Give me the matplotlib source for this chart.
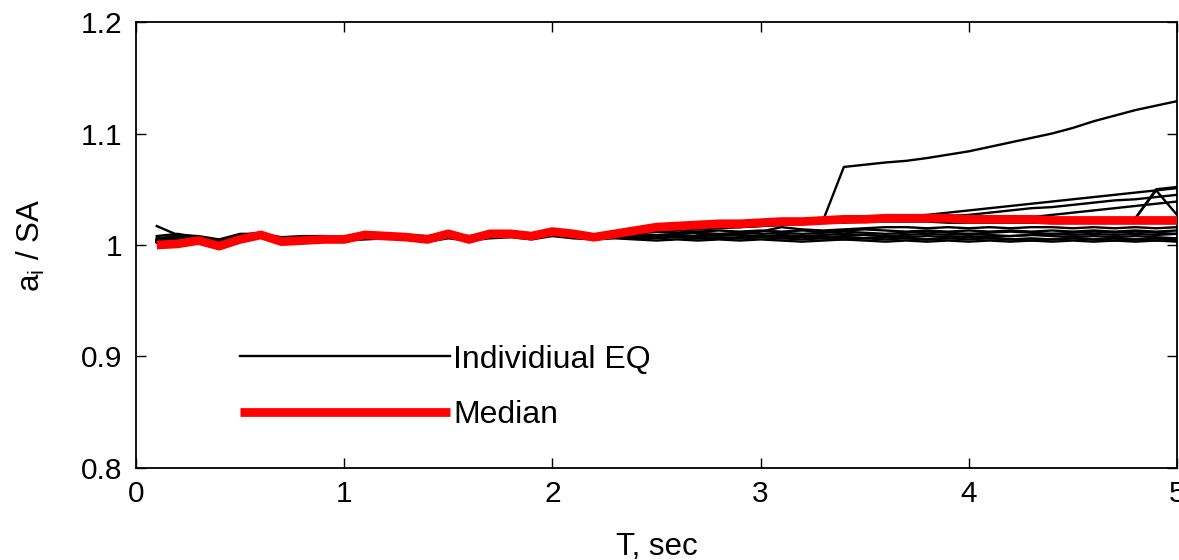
import matplotlib
matplotlib.use("Agg")
import matplotlib.pyplot as plt
from matplotlib.ticker import FixedLocator, FuncFormatter

plt.rcParams['font.family'] = ['Liberation Sans', 'DejaVu Sans']
plt.rcParams['mathtext.fontset'] = 'custom'
plt.rcParams['mathtext.rm'] = 'Liberation Sans'
plt.rcParams['mathtext.it'] = 'Liberation Sans'

# Periods T (sec)
T = [round(0.1 * k, 1) for k in range(1, 51)]

median = [1.000, 1.001, 1.004, 0.999, 1.005, 1.009, 1.003, 1.004, 1.005, 1.005,
          1.009, 1.008, 1.007, 1.005, 1.010, 1.005, 1.010, 1.010, 1.008, 1.012,
          1.010, 1.007, 1.010, 1.013, 1.016, 1.017, 1.018, 1.019, 1.019, 1.020,
          1.021, 1.021, 1.022, 1.023, 1.023, 1.024, 1.024, 1.024, 1.024, 1.023,
          1.023, 1.023, 1.023, 1.022, 1.022, 1.022, 1.022, 1.022, 1.022, 1.022]

eq_big = [1.003, 1.005, 1.006, 1.002, 1.006, 1.008, 1.005, 1.006, 1.006, 1.006,
          1.008, 1.008, 1.007, 1.006, 1.008, 1.006, 1.008, 1.009, 1.008, 1.010,
          1.009, 1.008, 1.010, 1.012, 1.014, 1.015, 1.016, 1.017, 1.018, 1.019,
          1.020, 1.021, 1.022, 1.070, 1.072, 1.074, 1.0755, 1.078, 1.081, 1.084,
          1.088, 1.092, 1.096, 1.100, 1.105, 1.111, 1.116, 1.121, 1.125, 1.129]

eq_b1 = [1.017, 1.009, 1.006, 1.004, 1.007, 1.008, 1.006, 1.006, 1.007, 1.006,
         1.007, 1.008, 1.007, 1.007, 1.008, 1.007, 1.008, 1.008, 1.007, 1.009,
         1.008, 1.007, 1.008, 1.009, 1.008, 1.009, 1.008, 1.009, 1.009, 1.008,
         1.009, 1.008, 1.009, 1.010, 1.009, 1.008, 1.009, 1.010, 1.009, 1.010,
         1.009, 1.008, 1.009, 1.010, 1.009, 1.010, 1.009, 1.010, 1.009, 1.010]

eq_b2 = [1.006, 1.008, 1.004, 1.001, 1.006, 1.010, 1.004, 1.005, 1.005, 1.005,
         1.007, 1.007, 1.006, 1.004, 1.009, 1.005, 1.009, 1.009, 1.007, 1.011,
         1.009, 1.006, 1.008, 1.007, 1.006, 1.007, 1.006, 1.007, 1.006, 1.007,
         1.006, 1.007, 1.006, 1.005, 1.006, 1.007, 1.006, 1.005, 1.006, 1.005,
         1.006, 1.005, 1.006, 1.005, 1.006, 1.005, 1.006, 1.005, 1.006, 1.005]

eq_b3 = [1.003, 1.004, 1.002, 0.999, 1.004, 1.007, 1.003, 1.004, 1.004, 1.004,
         1.005, 1.006, 1.005, 1.003, 1.006, 1.004, 1.006, 1.007, 1.005, 1.008,
         1.006, 1.005, 1.006, 1.005, 1.004, 1.005, 1.004, 1.005, 1.004, 1.005,
         1.004, 1.003, 1.004, 1.005, 1.004, 1.003, 1.004, 1.003, 1.004, 1.003,
         1.004, 1.003, 1.004, 1.003, 1.004, 1.003, 1.004, 1.003, 1.004, 1.003]

eq_b4 = [1.008, 1.010, 1.007, 1.003, 1.009, 1.011, 1.006, 1.006, 1.006, 1.007,
         1.009, 1.009, 1.008, 1.006, 1.010, 1.006, 1.010, 1.011, 1.009, 1.012,
         1.010, 1.007, 1.009, 1.010, 1.009, 1.010, 1.011, 1.010, 1.011, 1.010,
         1.011, 1.010, 1.011, 1.012, 1.011, 1.010, 1.011, 1.012, 1.011, 1.010,
         1.011, 1.012, 1.011, 1.010, 1.011, 1.012, 1.011, 1.012, 1.011, 1.010]

eq_b5 = [1.005, 1.007, 1.005, 1.002, 1.007, 1.009, 1.005, 1.005, 1.006, 1.006,
         1.008, 1.008, 1.007, 1.005, 1.008, 1.006, 1.009, 1.010, 1.008, 1.011,
         1.010, 1.009, 1.011, 1.013, 1.015, 1.014, 1.010, 1.009, 1.010, 1.012,
         1.016, 1.014, 1.013, 1.014, 1.015, 1.016, 1.016, 1.015, 1.016, 1.015,
         1.016, 1.015, 1.016, 1.016, 1.015, 1.016, 1.015, 1.016, 1.015, 1.016]

eq_b6 = [1.004, 1.006, 1.003, 1.000, 1.005, 1.008, 1.004, 1.004, 1.005, 1.005,
         1.006, 1.007, 1.006, 1.004, 1.007, 1.005, 1.007, 1.008, 1.006, 1.009,
         1.007, 1.006, 1.007, 1.006, 1.007, 1.008, 1.007, 1.006, 1.007, 1.008,
         1.007, 1.008, 1.007, 1.008, 1.009, 1.008, 1.007, 1.008, 1.007, 1.008,
         1.007, 1.008, 1.009, 1.008, 1.007, 1.008, 1.007, 1.008, 1.007, 1.006]

eq_b7 = [1.002, 1.005, 1.006, 1.003, 1.008, 1.009, 1.005, 1.007, 1.006, 1.006,
         1.008, 1.009, 1.008, 1.007, 1.009, 1.007, 1.009, 1.010, 1.008, 1.010,
         1.008, 1.007, 1.008, 1.007, 1.008, 1.007, 1.006, 1.007, 1.006, 1.007,
         1.006, 1.005, 1.006, 1.007, 1.006, 1.005, 1.006, 1.005, 1.006, 1.007,
         1.006, 1.005, 1.004, 1.005, 1.006, 1.005, 1.004, 1.005, 1.004, 1.005]

eq_b8 = [1.004, 1.009, 1.008, 1.005, 1.010, 1.010, 1.007, 1.008, 1.008, 1.007,
         1.009, 1.010, 1.009, 1.008, 1.010, 1.008, 1.010, 1.011, 1.009, 1.011,
         1.010, 1.009, 1.010, 1.011, 1.012, 1.011, 1.012, 1.013, 1.012, 1.013,
         1.012, 1.013, 1.012, 1.013, 1.014, 1.013, 1.012, 1.013, 1.012, 1.013,
         1.012, 1.013, 1.012, 1.013, 1.012, 1.013, 1.012, 1.013, 1.012, 1.013]

eq_c2 = [1.004, 1.006, 1.004, 1.001, 1.006, 1.009, 1.005, 1.005, 1.006, 1.006,
         1.008, 1.008, 1.007, 1.005, 1.009, 1.006, 1.009, 1.010, 1.008, 1.011,
         1.010, 1.008, 1.010, 1.012, 1.014, 1.015, 1.016, 1.017, 1.018, 1.019,
         1.020, 1.021, 1.022, 1.023, 1.024, 1.025, 1.026, 1.027, 1.029, 1.031,
         1.033, 1.035, 1.037, 1.039, 1.041, 1.043, 1.045, 1.047, 1.049, 1.051]

eq_c3 = [1.003, 1.005, 1.004, 1.000, 1.005, 1.008, 1.004, 1.005, 1.005, 1.005,
         1.007, 1.008, 1.007, 1.005, 1.008, 1.005, 1.008, 1.009, 1.007, 1.010,
         1.009, 1.007, 1.009, 1.011, 1.013, 1.014, 1.015, 1.016, 1.017, 1.018,
         1.019, 1.020, 1.021, 1.022, 1.022, 1.023, 1.024, 1.025, 1.026, 1.027,
         1.029, 1.031, 1.033, 1.034, 1.036, 1.038, 1.040, 1.041, 1.043, 1.045]

eq_c4 = [1.004, 1.005, 1.003, 1.000, 1.005, 1.008, 1.004, 1.004, 1.005, 1.005,
         1.007, 1.007, 1.006, 1.005, 1.008, 1.005, 1.008, 1.009, 1.007, 1.010,
         1.009, 1.007, 1.009, 1.011, 1.012, 1.013, 1.014, 1.015, 1.016, 1.017,
         1.018, 1.019, 1.020, 1.021, 1.021, 1.022, 1.022, 1.023, 1.023, 1.023,
         1.024, 1.024, 1.025, 1.027, 1.029, 1.031, 1.033, 1.035, 1.037, 1.039]

eq_c5 = [1.003, 1.006, 1.004, 1.001, 1.006, 1.008, 1.005, 1.005, 1.006, 1.006,
         1.008, 1.008, 1.007, 1.006, 1.009, 1.006, 1.009, 1.009, 1.008, 1.011,
         1.009, 1.007, 1.009, 1.011, 1.013, 1.014, 1.015, 1.016, 1.017, 1.018,
         1.019, 1.020, 1.020, 1.021, 1.021, 1.022, 1.022, 1.022, 1.022, 1.022,
         1.022, 1.022, 1.021, 1.021, 1.021, 1.021, 1.021, 1.024, 1.050, 1.052]

eq_c6 = [1.005, 1.007, 1.005, 1.002, 1.006, 1.009, 1.005, 1.006, 1.006, 1.006,
         1.008, 1.008, 1.007, 1.006, 1.009, 1.006, 1.009, 1.010, 1.008, 1.011,
         1.010, 1.008, 1.010, 1.012, 1.013, 1.014, 1.015, 1.016, 1.016, 1.017,
         1.018, 1.019, 1.020, 1.020, 1.021, 1.021, 1.021, 1.021, 1.020, 1.020,
         1.020, 1.020, 1.020, 1.020, 1.020, 1.020, 1.021, 1.024, 1.049, 1.027]

individual = [eq_big, eq_b1, eq_b2, eq_b3, eq_b4, eq_b5, eq_b6, eq_b7, eq_b8,
              eq_c2, eq_c3, eq_c4, eq_c5, eq_c6]

x_ticks = [0, 1, 2, 3, 4, 5]
y_ticks = [0.8, 0.9, 1.0, 1.1, 1.2]
legend_labels = ['Individiual EQ', 'Median']

fig = plt.figure(figsize=(11.79, 5.60), dpi=100)
ax = fig.add_axes([0.1153, 0.1643, 0.8830, 0.7964])

FS = 21.5
LFS = 23
for k, series in enumerate(individual):
    ax.plot(T, series, color='black', lw=1.7,
            label=legend_labels[0] if k == 0 else '_nolegend_', zorder=2)
ax.plot(T, median, color='#ff0000', lw=6.3, label=legend_labels[1],
        zorder=3, solid_joinstyle='round', solid_capstyle='butt')

ax.set_xlim(0, 5)
ax.set_ylim(0.8, 1.2)
ax.xaxis.set_major_locator(FixedLocator(x_ticks))
ax.yaxis.set_major_locator(FixedLocator(y_ticks))
ax.yaxis.set_major_formatter(FuncFormatter(lambda v, p: '%g' % v))
ax.xaxis.set_major_formatter(FuncFormatter(lambda v, p: '%g' % v))
ax.tick_params(direction='in', length=7, width=1.0, labelsize=FS,
               top=True, right=True, colors='black')
ax.tick_params(axis='y', pad=10)
ax.tick_params(axis='x', pad=9)
for s in ax.spines.values():
    s.set_linewidth(1.3)

ax.set_xlabel('T, sec', fontsize=22.5, labelpad=17)
ax.set_ylabel(r'$\mathregular{a_i}$ / SA', fontsize=22.5, labelpad=24)

leg = ax.legend(loc='lower left', bbox_to_anchor=(0.0999, 0.085), frameon=False,
                fontsize=LFS, handlelength=6.58, handletextpad=0.1,
                labelspacing=0.8, borderpad=0, borderaxespad=0)

fig.savefig('out.png', dpi=100)
